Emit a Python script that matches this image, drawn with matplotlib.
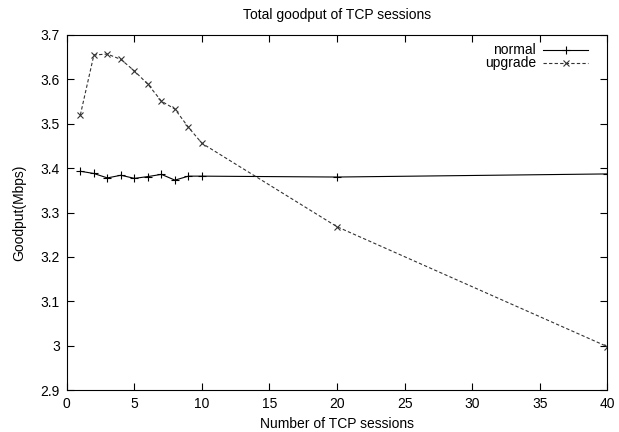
import matplotlib
matplotlib.use("Agg")
import matplotlib.pyplot as plt

plt.rcParams["font.family"] = ["Liberation Sans", "DejaVu Sans"]

sessions = [1, 2, 3, 4, 5, 6, 7, 8, 9, 10, 20, 40]
normal = [3.393, 3.388, 3.378, 3.384, 3.377, 3.381, 3.386, 3.373, 3.382, 3.382, 3.380, 3.387]
upgrade = [3.520, 3.655, 3.657, 3.645, 3.619, 3.589, 3.551, 3.533, 3.492, 3.456, 3.268, 2.998]

xticks = [0, 5, 10, 15, 20, 25, 30, 35, 40]
yticks = [2.9, 3.0, 3.1, 3.2, 3.3, 3.4, 3.5, 3.6, 3.7]
ytick_labels = ["2.9", "3", "3.1", "3.2", "3.3", "3.4", "3.5", "3.6", "3.7"]

fig = plt.figure(figsize=(6.19, 4.32), dpi=100)
ax = fig.add_axes([0.108, 0.097, 0.873, 0.822])

styles = [
    ("normal", normal, dict(color="black", lw=0.8, ls="-"), dict(marker="+", ms=6, mew=0.8)),
    ("upgrade", upgrade, dict(color="#333333", lw=0.8, ls=(0, (3, 2))), dict(marker="x", ms=5, mew=0.8)),
]
for name, vals, line, mark in styles:
    ax.plot(sessions, vals, **line, **mark)

# gnuplot style key: label right-aligned, sample to its right
for i, (name, vals, line, mark) in enumerate(styles):
    yk = 0.958 - i * 0.037
    ax.text(0.868, yk, name, transform=ax.transAxes, ha="right", va="center", fontsize=10)
    ax.plot([0.882, 0.965], [yk, yk], transform=ax.transAxes, clip_on=False, **line)
    ax.plot([0.9235], [yk], transform=ax.transAxes, clip_on=False, ls="none",
            color=line["color"], **mark)

ax.set_xlim(0, 40)
ax.set_ylim(2.9, 3.7)
ax.set_xticks(xticks)
ax.set_yticks(yticks)
ax.set_yticklabels(ytick_labels)
ax.tick_params(direction="in", top=True, right=True, length=5, labelsize=10, pad=5)

ax.set_title("Total goodput of TCP sessions", fontsize=10, pad=11.5)
ax.set_xlabel("Number of TCP sessions", fontsize=10)
ax.set_ylabel("Goodput(Mbps)", fontsize=10, labelpad=10.5)

fig.savefig("out.png", dpi=100)
